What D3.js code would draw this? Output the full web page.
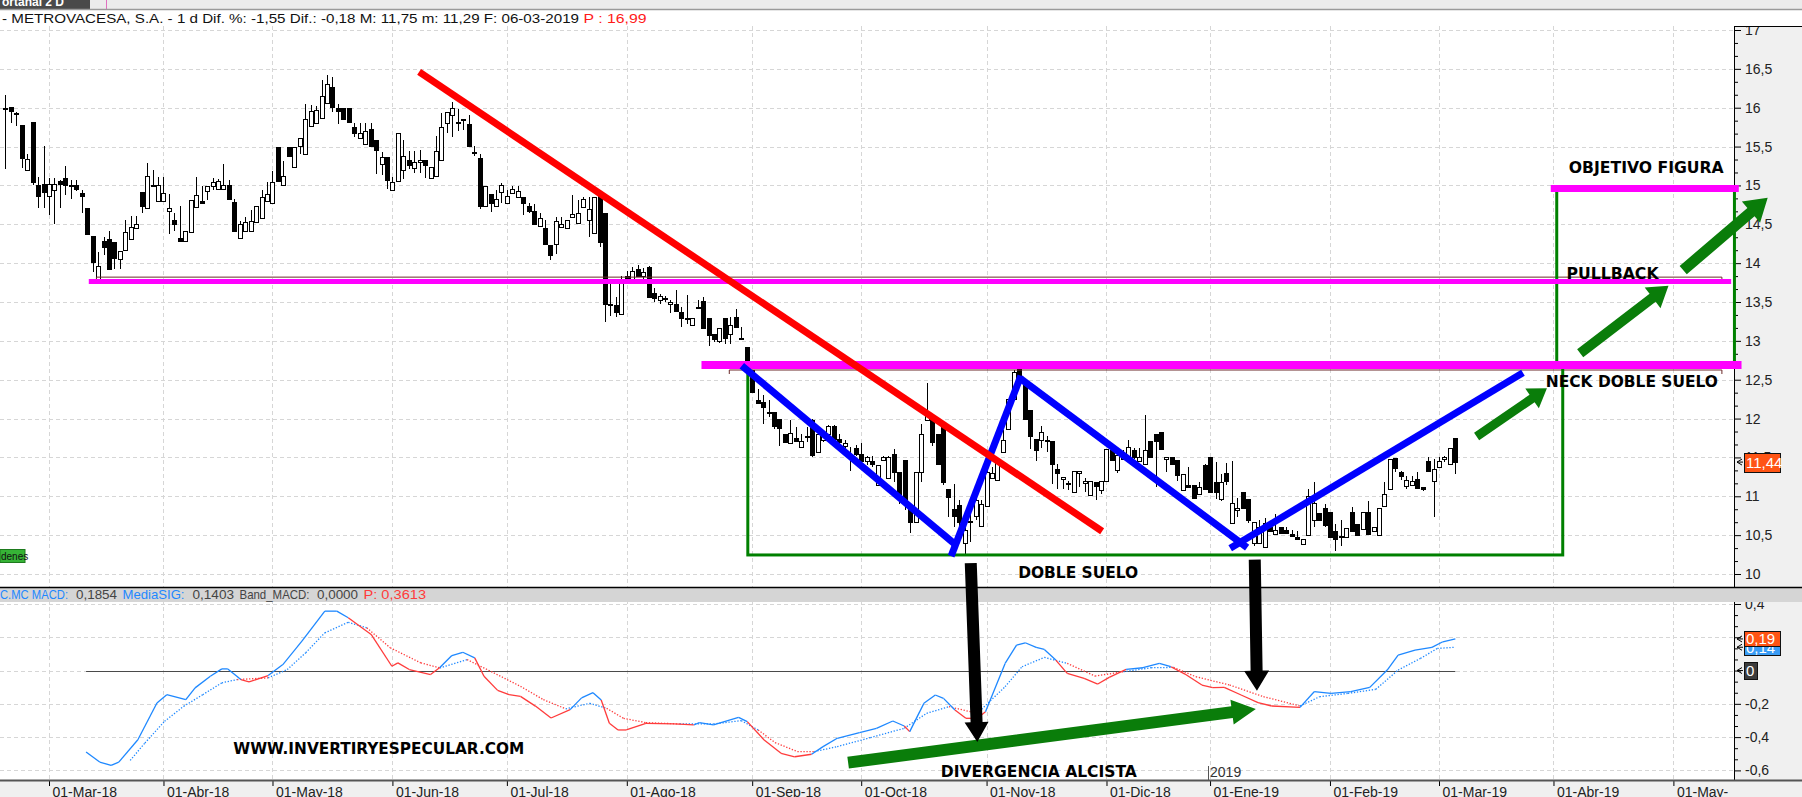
<!DOCTYPE html>
<html>
<head>
<meta charset="utf-8">
<script src="https://cdn.jsdelivr.net/npm/d3@7"></script>
<style>
  body { margin: 0; background: #fff; }
  svg { display: block; }
  .note { font-family: "DejaVu Sans Condensed", "DejaVu Sans", sans-serif; font-weight: bold; font-size: 16px; fill: #000; }
  .txt { font-family: "Liberation Sans", Arial, sans-serif; }
</style>
</head>
<body>
<svg id="chart" width="1802" height="797"></svg>
<script>
/*
 * Data
 */
var startIdx = -8; // first candle, in trading days from 01-Mar-18
// open, high, low, close
var ohlc = [
  [16.0,16.17,15.21,16.0],[16.01,16.01,15.80,15.96],[15.93,15.95,15.77,15.93],[15.78,15.78,15.22,15.35],
  [15.20,15.40,15.20,15.34],[15.81,15.81,15.00,15.04],[15.01,15.11,14.71,14.86],[15.02,15.51,14.71,14.91],
  [14.86,15.10,14.62,15.02],[14.94,15.09,14.51,15.02],[15.06,15.07,14.71,15.02],[15.10,15.25,14.88,15.01],
  [15.00,15.07,14.82,15.00],[15.00,15.07,14.93,14.96],[14.90,14.94,14.64,14.86],[14.71,14.71,14.37,14.37],
  [14.35,14.35,13.89,14.01],[13.80,14.14,13.78,13.96],[14.28,14.34,14.10,14.21],[14.31,14.42,13.92,13.92],
  [14.27,14.27,13.92,14.07],[14.05,14.16,13.92,14.16],[14.17,14.56,14.17,14.40],[14.31,14.61,14.30,14.47],
  [14.45,14.61,14.45,14.50],[14.91,14.91,14.64,14.73],[14.71,15.29,14.71,15.12],[15.00,15.20,15.00,15.00],
  [14.80,15.11,14.80,15.00],[14.80,15.11,14.80,14.90],[14.67,14.89,14.37,14.71],[14.56,14.64,14.42,14.50],
  [14.32,14.73,14.29,14.29],[14.28,14.42,14.28,14.42],[14.40,14.81,14.40,14.81],[14.72,15.11,14.72,14.88],
  [14.80,14.99,14.77,14.77],[14.93,14.99,14.81,14.99],[14.99,15.10,14.94,15.04],[14.96,15.08,14.96,15.06],
  [14.96,15.27,14.95,15.00],[15.00,15.07,14.83,14.83],[14.79,14.82,14.41,14.41],[14.32,14.54,14.32,14.50],
  [14.42,14.60,14.42,14.53],[14.41,14.68,14.41,14.54],[14.53,14.74,14.53,14.74],[14.58,14.94,14.58,14.85],
  [14.80,15.05,14.79,14.89],[14.77,15.18,14.77,15.04],[15.50,15.50,15.06,15.06],[15.00,15.32,15.00,15.12],
  [15.50,15.50,15.38,15.38],[15.24,15.50,15.24,15.50],[15.51,15.61,15.41,15.61],[15.40,16.05,15.40,15.85],
  [15.76,16.03,15.76,15.96],[15.80,16.02,15.80,15.97],[15.87,16.36,15.87,16.15],[16.06,16.42,16.06,16.31],
  [16.27,16.40,15.94,16.01],[16.00,16.05,15.79,15.96],[16.00,16.00,15.86,15.86],[16.00,16.00,15.81,15.81],
  [15.75,15.80,15.62,15.67],[15.61,15.80,15.61,15.68],[15.53,15.80,15.53,15.70],[15.73,15.80,15.51,15.51],
  [15.59,15.59,15.15,15.46],[15.28,15.43,15.14,15.37],[15.36,15.36,14.95,15.07],[14.94,15.11,14.94,15.04],
  [15.06,15.67,15.06,15.67],[15.20,15.59,15.08,15.38],[15.33,15.44,15.21,15.26],[15.22,15.44,15.16,15.30],
  [15.30,15.45,15.16,15.33],[15.33,15.33,15.09,15.26],[15.10,15.24,15.08,15.24],[15.12,15.64,15.12,15.44],
  [15.33,15.93,15.33,15.75],[15.80,15.95,15.67,15.95],[15.91,16.07,15.62,15.99],[15.81,15.98,15.70,15.81],
  [15.85,15.85,15.71,15.85],[15.79,15.91,15.51,15.51],[15.43,15.51,15.38,15.43],[15.35,15.41,14.70,14.73],
  [14.74,14.99,14.74,14.99],[14.89,14.89,14.66,14.77],[14.74,14.94,14.74,14.83],[14.91,15.03,14.78,15.00],
  [14.77,14.94,14.77,14.87],[14.90,14.99,14.90,14.96],[14.85,14.99,14.85,14.93],[14.85,14.85,14.62,14.77],
  [14.73,14.78,14.65,14.67],[14.67,14.76,14.51,14.51],[14.48,14.64,14.48,14.58],[14.45,14.56,14.24,14.24],
  [14.23,14.23,14.04,14.11],[14.25,14.60,14.12,14.54],[14.46,14.60,14.46,14.50],[14.45,14.56,14.45,14.56],
  [14.60,14.88,14.59,14.63],[14.52,14.81,14.52,14.64],[14.72,14.85,14.72,14.82],[14.56,14.85,14.34,14.70],
  [14.39,14.85,14.39,14.85],[14.86,14.86,14.21,14.27],[14.65,14.65,13.24,13.48],[13.47,13.74,13.32,13.47],
  [13.46,13.56,13.31,13.37],[13.34,13.83,13.34,13.74],[13.83,13.90,13.74,13.78],[13.80,13.95,13.78,13.90],
  [13.93,13.97,13.82,13.83],[13.84,13.94,13.80,13.88],[13.95,13.96,13.55,13.56],[13.62,13.68,13.50,13.55],
  [13.52,13.60,13.48,13.58],[13.55,13.58,13.50,13.55],[13.47,13.53,13.36,13.50],[13.47,13.65,13.37,13.39],
  [13.37,13.44,13.18,13.29],[13.29,13.59,13.22,13.29],[13.21,13.29,13.21,13.29],[13.44,13.52,13.42,13.44],
  [13.51,13.56,13.16,13.16],[13.29,13.29,12.93,13.08],[13.09,13.09,12.98,13.03],[13.00,13.16,12.97,13.16],
  [13.29,13.29,12.96,13.04],[13.09,13.31,12.96,13.21],[13.31,13.41,13.18,13.18],[13.04,13.18,13.03,13.04],
  [12.92,12.92,12.76,12.76],[12.63,12.63,12.34,12.34],[12.24,12.38,12.19,12.20],[12.21,12.30,11.93,12.15],
  [12.08,12.24,12.02,12.08],[12.09,12.09,11.87,11.91],[12.00,12.00,11.65,11.88],[11.80,11.80,11.70,11.70],
  [11.68,11.98,11.68,11.81],[11.75,11.89,11.71,11.71],[11.64,11.80,11.64,11.71],[11.77,11.89,11.70,11.77],
  [11.98,12.00,11.50,11.53],[11.57,11.80,11.57,11.80],[11.72,11.85,11.70,11.80],[11.80,11.92,11.78,11.90],
  [11.90,11.92,11.72,11.74],[11.74,11.80,11.60,11.70],[11.65,11.72,11.55,11.68],[11.51,11.63,11.33,11.51],
  [11.62,11.66,11.52,11.55],[11.55,11.68,11.44,11.46],[11.45,11.52,11.40,11.50],[11.46,11.52,11.38,11.42],
  [11.14,11.40,11.14,11.40],[11.47,11.52,11.47,11.51],[11.23,11.52,11.23,11.50],[11.54,11.61,11.18,11.31],
  [11.31,11.31,10.90,11.03],[11.47,11.47,10.82,10.90],[10.84,10.90,10.53,10.67],[10.67,11.31,10.67,11.31],
  [11.31,11.93,11.18,11.80],[11.98,12.46,11.98,12.04],[12.00,12.00,11.65,11.70],[11.80,11.80,11.40,11.42],
  [11.91,11.91,11.14,11.18],[11.09,11.09,10.73,10.99],[10.83,11.16,10.60,10.75],[10.89,10.95,10.56,10.67],
  [10.40,10.77,10.26,10.56],[10.68,10.77,10.41,10.68],[10.75,11.00,10.70,10.95],[10.62,10.95,10.62,10.90],
  [10.87,11.41,10.87,11.31],[11.24,11.38,11.24,11.30],[11.21,11.51,11.21,11.43],[11.57,11.85,11.57,11.73],
  [11.87,12.25,11.87,12.25],[12.25,12.62,12.25,12.60],[12.64,12.67,12.51,12.51],[12.43,12.43,12.00,12.00],
  [12.11,12.11,11.61,11.78],[11.74,11.74,11.46,11.60],[11.73,11.90,11.62,11.83],[11.72,11.78,11.57,11.72],
  [11.71,11.71,11.16,11.41],[11.35,11.42,11.10,11.30],[11.22,11.25,11.10,11.25],[11.17,11.20,11.08,11.17],
  [11.05,11.33,11.05,11.33],[11.30,11.33,11.12,11.33],[11.17,11.24,11.06,11.20],[11.02,11.20,11.00,11.20],
  [11.19,11.19,10.95,11.13],[11.08,11.20,11.03,11.20],[11.20,11.61,11.20,11.61],[11.60,11.60,11.47,11.47],
  [11.34,11.53,11.30,11.53],[11.48,11.59,11.48,11.50],[11.47,11.73,11.47,11.64],[11.60,11.62,11.48,11.50],
  [11.46,11.62,11.46,11.50],[11.41,12.04,11.41,11.60],[11.71,11.71,11.50,11.50],[11.80,11.80,11.12,11.71],
  [11.83,11.83,11.61,11.61],[11.48,11.50,11.31,11.50],[11.50,11.50,11.42,11.42],[11.47,11.47,11.20,11.27],
  [11.08,11.29,11.08,11.29],[11.15,11.38,11.12,11.12],[11.15,11.15,10.98,10.98],[11.03,11.19,11.03,11.12],
  [11.40,11.41,11.10,11.10],[11.51,11.51,11.06,11.06],[11.18,11.44,10.97,11.06],[10.97,11.29,10.94,11.18],
  [11.30,11.43,11.15,11.20],[10.65,11.45,10.65,10.91],[10.82,10.98,10.73,10.85],[11.06,11.06,10.85,10.85],
  [10.97,10.97,10.65,10.70],[10.40,10.67,10.36,10.67],[10.40,10.70,10.38,10.61],[10.35,10.72,10.35,10.66],
  [10.61,10.64,10.54,10.55],[10.51,10.77,10.51,10.57],[10.61,10.61,10.53,10.53],[10.57,10.60,10.53,10.53],
  [10.52,10.57,10.49,10.49],[10.47,10.55,10.45,10.45],[10.38,10.45,10.38,10.45],[10.50,11.10,10.50,11.01],
  [10.70,11.18,10.60,10.92],[10.79,10.79,10.70,10.70],[10.85,10.90,10.60,10.63],[10.80,10.80,10.47,10.47],
  [10.55,10.64,10.30,10.45],[10.49,10.70,10.36,10.48],[10.47,10.59,10.47,10.59],[10.80,10.86,10.55,10.55],
  [10.64,10.64,10.50,10.50],[10.58,10.80,10.58,10.80],[10.80,10.94,10.52,10.52],[10.55,10.60,10.55,10.60],
  [10.50,10.85,10.50,10.85],[10.88,11.18,10.88,11.03],[11.09,11.48,11.09,11.48],[11.49,11.49,11.31,11.36],
  [11.31,11.33,11.21,11.26],[11.13,11.26,11.09,11.21],[11.14,11.26,11.14,11.20],[11.22,11.31,11.09,11.11],
  [11.12,11.12,11.07,11.10],[11.46,11.51,11.33,11.33],[11.20,11.48,10.73,11.35],[11.38,11.50,11.38,11.45],
  [11.48,11.52,11.44,11.50],[11.42,11.62,11.42,11.62],[11.75,11.75,11.29,11.44]
];

// MACD line and its signal, [trading day, value]
var macdLine = [
  [6.8,-0.49],[9.3,-0.55],[11.4,-0.57],[12.8,-0.55],[16.3,-0.416],[19.8,-0.195],[21.6,-0.145],[25.1,-0.175],
  [26.8,-0.104],[29.6,-0.034],[31.7,0.01],[32.8,0.01],[35.2,-0.054],[36.7,-0.068],[40.2,-0.03],[42.9,0.036],
  [46.4,0.177],[50.6,0.357],[52.8,0.357],[54.9,0.317],[59.1,0.217],[62.9,0.026],[64.0,0.046],[66.1,0.006],
  [70.0,-0.024],[71.7,0.018],[73.9,0.09],[75.9,0.11],[78.1,0.076],[79.8,-0.034],[82.3,-0.119],[84.4,-0.145],
  [86.5,-0.155],[89.3,-0.215],[92.1,-0.285],[95.6,-0.235],[97.7,-0.164],[99.8,-0.133],[101.3,-0.177],
  [102.8,-0.317],[104.4,-0.357],[105.9,-0.357],[109.5,-0.317],[114.7,-0.321],[118.3,-0.327],[119.3,-0.313],
  [121.9,-0.327],[126.5,-0.281],[128.1,-0.307],[131.2,-0.417],[134.3,-0.497],[136.8,-0.518],[139.9,-0.503],
  [142.0,-0.457],[144.6,-0.407],[148.7,-0.373],[151.8,-0.347],[154.8,-0.303],[156.9,-0.333],[157.9,-0.367],
  [160.5,-0.197],[162.6,-0.147],[164.1,-0.167],[166.2,-0.237],[168.2,-0.287],[170.3,-0.287],[171.8,-0.247],
  [175.4,0.043],[177.5,0.153],[179.1,0.167],[181.1,0.139],[182.6,0.127],[184.7,0.063],[186.8,-0.017],
  [189.9,-0.047],[192.4,-0.081],[194.5,-0.041],[197.6,0.007],[200.7,0.017],[203.7,0.043],[205.8,0.023],
  [208.4,-0.021],[211.5,-0.087],[213.5,-0.103],[215.6,-0.101],[218.7,-0.147],[221.8,-0.193],[224.3,-0.213],
  [229.5,-0.221],[232.1,-0.127],[235.2,-0.137],[238.8,-0.127],[242.3,-0.101],[245.5,0.003],[247.5,0.093],
  [250.6,0.123],[253.7,0.139],[255.7,0.173],[258,0.19]
];
var signalLine = [
  [14.9,-0.54],[17.6,-0.435],[21.2,-0.305],[24.7,-0.215],[28.2,-0.145],[31.7,-0.074],[34.5,-0.054],
  [40.2,-0.044],[43.7,0.006],[47.1,0.107],[50.6,0.227],[54.9,0.29],[58.3,0.257],[62.6,0.137],[68.2,0.046],
  [71.7,0.016],[76.7,0.066],[81.6,-0.014],[86.5,-0.095],[90.7,-0.175],[94.8,-0.23],[99.2,-0.197],
  [102.3,-0.227],[105.4,-0.287],[109.5,-0.313],[115.7,-0.321],[121.9,-0.321],[127.0,-0.301],[130.1,-0.357],
  [133.2,-0.433],[137.3,-0.487],[140.4,-0.487],[144.6,-0.457],[150.7,-0.403],[156.9,-0.347],[161.0,-0.257],
  [165.1,-0.217],[170.3,-0.257],[175.4,-0.097],[178.5,0.023],[182.6,0.079],[186.8,0.043],[191.9,-0.033],
  [197.1,-0.007],[202.2,0.017],[206.3,0.019],[210.4,-0.037],[216.6,-0.087],[222.8,-0.157],[229.5,-0.213],
  [233.1,-0.157],[238.3,-0.137],[243.4,-0.113],[247.5,0.003],[251.6,0.073],[254.7,0.133],[258,0.14]
];

var monthIdx = [0, 21, 41, 63, 84, 106, 129, 149, 172, 194, 213, 235, 255, 276, 298];
var monthLabels = ['01-Mar-18', '01-Abr-18', '01-May-18', '01-Jun-18', '01-Jul-18', '01-Ago-18', '01-Sep-18',
  '01-Oct-18', '01-Nov-18', '01-Dic-18', '01-Ene-19', '01-Feb-19', '01-Mar-19', '01-Abr-19', '01-May-'];
var priceTicks = [10, 10.5, 11, 11.5, 12, 12.5, 13, 13.5, 14, 14.5, 15, 15.5, 16, 16.5, 17];
var macdTicks = [-0.6, -0.4, -0.2, 0, 0.2, 0.4];
var lastClose = 11.44, lastMacd = 0.19, lastSignal = 0.14;

/*
 * Hand drawn study lines, in trading day / price units
 */
var redTrend = [[67.9, 16.46], [193.2, 10.55]];
var blueLegs = [
  [[127.1, 12.68], [166.6, 10.36]],
  [[165.5, 10.23], [178.3, 12.55]],
  [[178.1, 12.52], [219.8, 10.34]],
  [[216.7, 10.33], [270.4, 12.59]]
];
var levels = [
  { from: 7.3, to: 308.6, p: 13.765, w: 5 },
  { from: 119.7, to: 310.5, p: 12.69, w: 8 },
  { from: 275.5, to: 310, p: 14.96, w: 7 }
];
var thinLevels = [
  { from: 8.7, to: 306.9, p: 13.82 },
  { from: 124.8, to: 306.9, p: 12.625 }
];
var boxes = [
  { from: 128.2, to: 277.7, lo: 10.245, hi: 12.69 },
  { from: 276.6, to: 309.2, lo: 12.69, hi: 14.97 }
];

var W = 1802, H = 797;
var axisX = 1734, priceTop = 26, priceBottom = 587, macdTop = 602, macdBottom = 780;
var blue = '#1e88ff', red = '#ff3b3b', green = '#0a7d0a';

var svg = d3.select('#chart');
var x = d3.scaleLinear().domain([monthIdx[0], monthIdx[12]]).range([49, 1439]);
var yP = d3.scaleLinear().domain([10, 17]).range([574, 30]);
var yM = d3.scaleLinear().domain([-0.6, 0.4]).range([770.4, 604]);

function fmt(d) {
  return String(d).replace('.', ',');
}

svg.append('rect').attr('width', W).attr('height', H).attr('fill', '#fff');

var defs = svg.append('defs');
defs.append('clipPath').attr('id', 'clipP').append('rect')
  .attr('x', 0).attr('y', priceTop).attr('width', axisX).attr('height', priceBottom - priceTop);
defs.append('clipPath').attr('id', 'clipM').append('rect')
  .attr('x', 0).attr('y', macdTop).attr('width', axisX).attr('height', macdBottom - macdTop);
defs.append('clipPath').attr('id', 'clipAP').append('rect')
  .attr('x', axisX - 10).attr('y', priceTop).attr('width', 90).attr('height', priceBottom - priceTop);
defs.append('clipPath').attr('id', 'clipAM').append('rect')
  .attr('x', axisX - 10).attr('y', macdTop).attr('width', 90).attr('height', macdBottom - macdTop);
defs.append('clipPath').attr('id', 'clipTab').append('rect')
  .attr('x', 0).attr('y', 0).attr('width', 90).attr('height', 9);

// right axis background
svg.append('rect').attr('x', axisX).attr('y', priceTop).attr('width', W - axisX)
  .attr('height', macdBottom - priceTop).attr('fill', '#f0f0f0');

/*
 * Grid
 */
var grid = svg.append('g').attr('stroke', '#d6d6d6').attr('stroke-dasharray', '4,3');
grid.selectAll('.hp').data(priceTicks).enter().append('line')
  .attr('x1', 0).attr('x2', axisX)
  .attr('y1', function(d) { return Math.round(yP(d)) + 0.5; })
  .attr('y2', function(d) { return Math.round(yP(d)) + 0.5; });
grid.selectAll('.hm').data(macdTicks).enter().append('line')
  .attr('x1', 0).attr('x2', axisX)
  .attr('y1', function(d) { return Math.round(yM(d)) + 0.5; })
  .attr('y2', function(d) { return Math.round(yM(d)) + 0.5; });
grid.selectAll('.vp').data(monthIdx).enter().append('line')
  .attr('x1', function(d) { return Math.round(x(d)) + 0.5; })
  .attr('x2', function(d) { return Math.round(x(d)) + 0.5; })
  .attr('y1', priceTop).attr('y2', macdBottom);

/*
 * Candles
 */
var candles = svg.append('g').attr('clip-path', 'url(#clipP)').attr('shape-rendering', 'crispEdges');
candles.selectAll('.wick').data(ohlc).enter().append('line')
  .attr('x1', function(d, k) { return Math.round(x(startIdx + k)) + 0.5; })
  .attr('x2', function(d, k) { return Math.round(x(startIdx + k)) + 0.5; })
  .attr('y1', function(d) { return Math.round(yP(d[1])); })
  .attr('y2', function(d) { return Math.round(yP(d[2])); })
  .attr('stroke', '#000');
candles.selectAll('.body').data(ohlc).enter().append('rect')
  .attr('x', function(d, k) { return Math.round(x(startIdx + k)) - 1.5; })
  .attr('y', function(d) { return Math.round(yP(Math.max(d[0], d[3]))) + 0.5; })
  .attr('width', 4)
  .attr('height', function(d) {
    return Math.max(1, Math.round(yP(Math.min(d[0], d[3]))) - Math.round(yP(Math.max(d[0], d[3]))));
  })
  .attr('fill', function(d) { return d[3] >= d[0] ? '#fff' : '#000'; })
  .attr('stroke', '#000');

/*
 * MACD panel
 */
function interp(series, i) {
  for (var k = 0; k < series.length - 1; k++) {
    var a = series[k], b = series[k + 1];
    if (i >= a[0] && i <= b[0]) {
      return a[1] + (b[1] - a[1]) * (i - a[0]) / (b[0] - a[0]);
    }
  }
  return null;
}

var macdG = svg.append('g').attr('clip-path', 'url(#clipM)');
macdG.append('line')
  .attr('x1', x(macdLine[0][0])).attr('x2', x(macdLine[macdLine.length - 1][0]))
  .attr('y1', Math.round(yM(0)) + 0.5).attr('y2', Math.round(yM(0)) + 0.5)
  .attr('stroke', '#4a4a4a').attr('stroke-width', 1.2);

function drawSeries(series, other, isMacd) {
  for (var k = 0; k < series.length - 1; k++) {
    var a = series[k], b = series[k + 1];
    var mid = (a[0] + b[0]) / 2;
    var own = (a[1] + b[1]) / 2;
    var ref = interp(other, mid);
    var above = ref === null ? true : (isMacd ? own >= ref : ref >= own);
    macdG.append('line')
      .attr('x1', x(a[0])).attr('y1', yM(a[1]))
      .attr('x2', x(b[0])).attr('y2', yM(b[1]))
      .attr('stroke', above ? blue : red)
      .attr('stroke-width', 1.3)
      .attr('stroke-dasharray', isMacd ? null : '1.3,1.7');
  }
}
drawSeries(signalLine, macdLine, false);
drawSeries(macdLine, signalLine, true);

/*
 * Right axes
 */
var minorP = [], minorM = [];
priceTicks.slice(1).forEach(function(t) { minorP.push(t - 0.5 / 3, t - 1 / 3); });
macdTicks.slice(1).forEach(function(t) { minorM.push(t - 0.2 / 3, t - 0.4 / 3); });

function styleAxis(g) {
  g.select('.domain').remove();
  g.attr('font-family', '"Liberation Sans", Arial, sans-serif').attr('font-size', 14);
  g.selectAll('.tick line').attr('stroke', '#000');
  g.selectAll('.tick text').attr('fill', '#222');
}

var pAxis = svg.append('g').attr('clip-path', 'url(#clipAP)');
pAxis.append('g').attr('transform', 'translate(' + axisX + ',0)')
  .call(d3.axisRight(yP).tickValues(priceTicks).tickSize(7).tickPadding(4).tickFormat(fmt))
  .call(styleAxis);
pAxis.append('g').attr('transform', 'translate(' + axisX + ',0)')
  .call(d3.axisRight(yP).tickValues(minorP).tickSize(4).tickFormat(''))
  .call(styleAxis);
var mAxis = svg.append('g').attr('clip-path', 'url(#clipAM)');
mAxis.append('g').attr('transform', 'translate(' + axisX + ',0)')
  .call(d3.axisRight(yM).tickValues(macdTicks).tickSize(7).tickPadding(4).tickFormat(fmt))
  .call(styleAxis);
mAxis.append('g').attr('transform', 'translate(' + axisX + ',0)')
  .call(d3.axisRight(yM).tickValues(minorM).tickSize(4).tickFormat(''))
  .call(styleAxis);

svg.append('line').attr('x1', axisX + 0.5).attr('x2', axisX + 0.5).attr('y1', priceTop).attr('y2', macdBottom)
  .attr('stroke', '#000');
svg.append('line').attr('x1', axisX).attr('x2', W).attr('y1', priceTop + 0.5).attr('y2', priceTop + 0.5)
  .attr('stroke', '#000');

// value flags on the axis
function flag(y, text, fill, w, h) {
  svg.append('rect').attr('x', axisX + 10.5).attr('y', Math.round(y - h / 2) + 0.5)
    .attr('width', w).attr('height', h).attr('fill', fill).attr('stroke', '#111');
  svg.append('text').attr('class', 'txt').attr('x', axisX + 12).attr('y', y + 5.5)
    .attr('font-size', 15).attr('fill', '#fff').text(text);
}
function pointer(y) {
  svg.append('path')
    .attr('d', 'M' + (axisX + 8) + ',' + (y - 3) + 'L' + (axisX + 3) + ',' + y + 'L' + (axisX + 8) + ',' + (y + 3)
      + 'M' + (axisX + 3) + ',' + y + 'L' + (axisX + 9) + ',' + y)
    .attr('fill', 'none').attr('stroke', '#000').attr('stroke-width', 1);
}
flag(yM(lastSignal), fmt(lastSignal), '#3a9cf5', 36, 15);
flag(yM(lastMacd), fmt(lastMacd), '#ff5414', 36, 15);
flag(yM(0), '0', '#3c3c3c', 13, 17);
flag(yP(lastClose), fmt(lastClose), '#ff5414', 36, 19);
pointer(yP(lastClose));
pointer(yM(lastMacd));
pointer(yM(lastSignal));
pointer(yM(0));

/*
 * Band between panels, with the indicator legend
 */
svg.append('rect').attr('x', 0).attr('y', priceBottom).attr('width', W).attr('height', macdTop - priceBottom)
  .attr('fill', '#d5d5d5');
svg.append('line').attr('x1', 0).attr('x2', W).attr('y1', priceBottom + 0.5).attr('y2', priceBottom + 0.5)
  .attr('stroke', '#000').attr('stroke-width', 1.5);
var legend = [
  { t: 'C.MC MACD:', x: 0, w: 68, c: blue },
  { t: '0,1854', x: 76, w: 41, c: '#444' },
  { t: 'MediaSIG:', x: 122.5, w: 62, c: blue },
  { t: '0,1403', x: 192.5, w: 41.5, c: '#444' },
  { t: 'Band_MACD:', x: 239.5, w: 70, c: '#444' },
  { t: '0,0000', x: 317, w: 41, c: '#444' },
  { t: 'P: 0,3613', x: 363.5, w: 62.5, c: red }
];
svg.selectAll('.leg').data(legend).enter().append('text')
  .attr('class', 'txt').attr('font-size', 13)
  .attr('x', function(d) { return d.x; }).attr('y', 599)
  .attr('textLength', function(d) { return d.w; }).attr('lengthAdjust', 'spacingAndGlyphs')
  .attr('fill', function(d) { return d.c; })
  .text(function(d) { return d.t; });

/*
 * Bottom time axis
 */
svg.append('rect').attr('x', 0).attr('y', macdBottom).attr('width', W).attr('height', H - macdBottom)
  .attr('fill', '#f0f0f0');
var xAxis = svg.append('g').attr('transform', 'translate(0,' + macdBottom + ')')
  .call(d3.axisBottom(x).tickValues(monthIdx).tickSize(6)
    .tickFormat(function(d, k) { return monthLabels[k]; }))
  .call(styleAxis);
xAxis.selectAll('.tick text').attr('text-anchor', 'start').attr('x', 3).attr('y', 16.5).attr('dy', null);
svg.append('line').attr('x1', 0).attr('x2', W).attr('y1', macdBottom + 0.5).attr('y2', macdBottom + 0.5)
  .attr('stroke', '#555').attr('stroke-width', 2);

// year marker
svg.append('line').attr('x1', Math.round(x(monthIdx[10])) - 1.5).attr('x2', Math.round(x(monthIdx[10])) - 1.5)
  .attr('y1', 766).attr('y2', macdBottom).attr('stroke', '#555');
svg.append('text').attr('class', 'txt').attr('font-size', 14).attr('fill', '#333')
  .attr('x', x(monthIdx[10])).attr('y', 777).text('2019');

/*
 * Study drawings
 */
var notes = svg.append('g');
notes.selectAll('.thin').data(thinLevels).enter().append('path')
  .attr('d', function(d) {
    return 'M' + x(d.from) + ',' + (yP(d.p) + 4) + 'V' + yP(d.p) + 'H' + x(d.to) + 'V' + (yP(d.p) + 4);
  })
  .attr('fill', 'none').attr('stroke', '#6b2a2a').attr('stroke-width', 1);
// boxes first, so the magenta levels hide their top edges
notes.selectAll('.box').data(boxes).enter().append('rect')
  .attr('x', function(d) { return x(d.from); })
  .attr('y', function(d) { return yP(d.hi); })
  .attr('width', function(d) { return x(d.to) - x(d.from); })
  .attr('height', function(d) { return yP(d.lo) - yP(d.hi); })
  .attr('fill', 'none').attr('stroke', '#008000').attr('stroke-width', 3);
notes.selectAll('.lvl').data(levels).enter().append('line')
  .attr('x1', function(d) { return x(d.from); }).attr('x2', function(d) { return x(d.to); })
  .attr('y1', function(d) { return yP(d.p); }).attr('y2', function(d) { return yP(d.p); })
  .attr('stroke', '#ff00ff').attr('stroke-width', function(d) { return d.w; });

var priceLine = d3.line().x(function(d) { return x(d[0]); }).y(function(d) { return yP(d[1]); });
notes.selectAll('.leg2').data(blueLegs).enter().append('path')
  .attr('d', priceLine).attr('stroke', '#0000ff').attr('stroke-width', 7).attr('fill', 'none');
notes.append('path').attr('d', priceLine(redTrend))
  .attr('stroke', '#ff0000').attr('stroke-width', 7).attr('fill', 'none');

function arrowPath(t, h, sw, hl, hw) {
  var dx = h[0] - t[0], dy = h[1] - t[1];
  var len = Math.sqrt(dx * dx + dy * dy);
  var ux = dx / len, uy = dy / len, nx = -uy, ny = ux;
  var bx = h[0] - ux * hl, by = h[1] - uy * hl;
  var pts = [
    [t[0] + nx * sw / 2, t[1] + ny * sw / 2],
    [bx + nx * sw / 2, by + ny * sw / 2],
    [bx + nx * hw, by + ny * hw],
    h,
    [bx - nx * hw, by - ny * hw],
    [bx - nx * sw / 2, by - ny * sw / 2],
    [t[0] - nx * sw / 2, t[1] - ny * sw / 2]
  ];
  return 'M' + pts.map(function(p) { return p[0] + ',' + p[1]; }).join('L') + 'Z';
}

var arrows = [
  { t: [x(299.8), yP(13.91)], h: [x(315.3), yP(14.84)], sw: 11, hl: 22, hw: 14, c: green },
  { t: [x(280.9), yP(12.84)], h: [x(297.1), yP(13.71)], sw: 10, hl: 20, hw: 13, c: green },
  { t: [x(261.9), yP(11.77)], h: [x(274.8), yP(12.39)], sw: 9, hl: 18, hw: 12, c: green },
  { t: [x(146.6), yM(-0.553)], h: [x(221.4), yM(-0.231)], sw: 12, hl: 24, hw: 12.5, c: green },
  { t: [x(169.1), yP(10.14)], h: [x(170.3), yM(-0.43)], sw: 12, hl: 20, hw: 12, c: '#000' },
  { t: [x(221.2), yP(10.185)], h: [x(221.6), yM(-0.121)], sw: 12, hl: 20, hw: 12.5, c: '#000' }
];
notes.selectAll('.arrow').data(arrows).enter().append('path')
  .attr('d', function(d) { return arrowPath(d.t, d.h, d.sw, d.hl, d.hw); })
  .attr('fill', function(d) { return d.c; });

var labels = [
  { t: 'OBJETIVO FIGURA', x: x(278.8), y: yP(15.155), w: 155 },
  { t: 'PULLBACK', x: x(278.4), y: yP(13.80), w: 92 },
  { t: 'NECK DOBLE SUELO', x: x(274.6), y: yP(12.41), w: 172 },
  { t: 'DOBLE SUELO', x: x(177.8), y: yP(9.95), w: 120 },
  { t: 'DIVERGENCIA ALCISTA', x: x(163.6), y: yM(-0.638), w: 196 },
  { t: 'WWW.INVERTIRYESPECULAR.COM', x: x(33.8), y: yM(-0.503), w: 291 }
];
notes.selectAll('.note').data(labels).enter().append('text')
  .attr('class', 'note')
  .attr('x', function(d) { return d.x; }).attr('y', function(d) { return d.y; })
  .attr('textLength', function(d) { return d.w; }).attr('lengthAdjust', 'spacingAndGlyphs')
  .text(function(d) { return d.t; });

// small order badge at the left edge
svg.append('rect').attr('x', 0).attr('y', 549.5).attr('width', 25).attr('height', 13)
  .attr('fill', '#36b336').attr('stroke', '#1d7a1d');
svg.append('text').attr('class', 'txt').attr('x', 1).attr('y', 559.5).attr('font-size', 10)
  .attr('fill', '#111').text('denes');

/*
 * Window strip and header
 */
svg.append('rect').attr('x', 0).attr('y', 0).attr('width', W).attr('height', 9).attr('fill', '#ececec');
svg.append('rect').attr('x', 0).attr('y', 0).attr('width', 90).attr('height', 9).attr('fill', '#4a4a4a');
svg.append('text').attr('clip-path', 'url(#clipTab)').attr('class', 'txt').attr('x', 2).attr('y', 6)
  .attr('font-size', 12).attr('font-weight', 'bold').attr('fill', '#fff').text('ortanal 2 D');
svg.append('line').attr('x1', 106.5).attr('x2', 106.5).attr('y1', 0).attr('y2', 9).attr('stroke', '#e070c0');
svg.append('line').attr('x1', 0).attr('x2', W).attr('y1', 9.5).attr('y2', 9.5).attr('stroke', '#9a9a9a')
  .attr('stroke-width', 1.5);

svg.append('text').attr('class', 'txt').attr('font-size', 13).attr('fill', '#111')
  .attr('x', 2).attr('y', 22.5).attr('textLength', 577).attr('lengthAdjust', 'spacingAndGlyphs')
  .text('- METROVACESA, S.A. -  1 d Dif. %: -1,55 Dif.: -0,18 M: 11,75 m: 11,29 F: 06-03-2019');
svg.append('text').attr('class', 'txt').attr('font-size', 13).attr('fill', '#ff1a1a')
  .attr('x', 583.5).attr('y', 22.5).attr('textLength', 63).attr('lengthAdjust', 'spacingAndGlyphs')
  .text('P : 16,99');
</script>
</body>
</html>
